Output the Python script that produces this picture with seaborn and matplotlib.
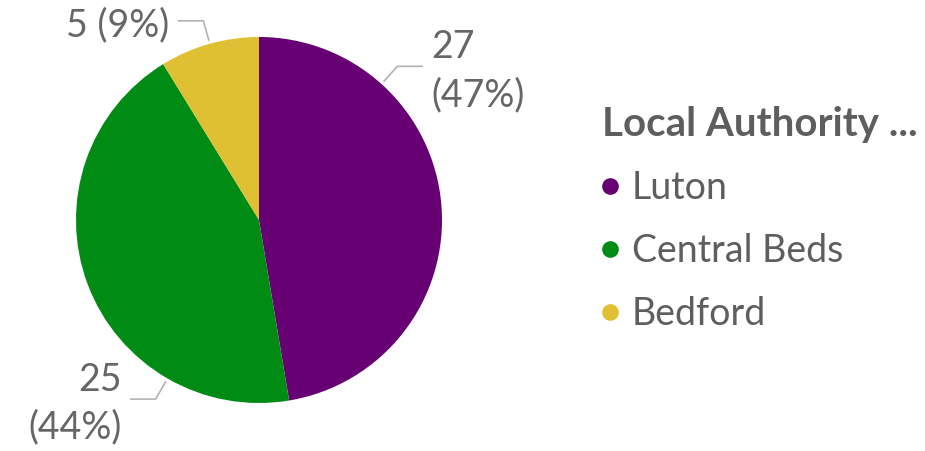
import numpy as np
import matplotlib.pyplot as plt
import seaborn as sns
from matplotlib.lines import Line2D

# data
authorities = ["Luton", "Central Beds", "Bedford"]
counts = [27, 25, 5]
colours = ["#660073", "#008C14", "#E0C033"]
legend_title = "Local Authority ..."

# leader line angles (degrees) as placed in the original
leader_angles = [48, -120, 105.6]

sns.set_theme(style="white")
plt.rcParams["font.family"] = ["Lato", "DejaVu Sans"]
text_grey = "#605E5C"

fig = plt.figure(figsize=(9.25, 4.51), dpi=100)
W, H = 925, 451
cx, cy, r = 259, 220, 183
ax = fig.add_axes([(cx - r) / W, (H - cy - r) / H, 2 * r / W, 2 * r / H])

palette = sns.color_palette(colours)
wedges, _ = ax.pie(counts, colors=palette, startangle=90, counterclock=False,
                   radius=1, wedgeprops=dict(linewidth=0))
ax.set_xlim(-1, 1)
ax.set_ylim(-1, 1)
ax.set_aspect("equal")
ax.axis("off")

total = sum(counts)
for n, ang in zip(counts, leader_angles):
    a = np.deg2rad(ang)
    p0 = np.array([np.cos(a), np.sin(a)]) * 1.02
    p1 = np.array([np.cos(a), np.sin(a)]) * 1.13
    side = 1 if np.cos(a) > 0 else -1
    p2 = p1 + np.array([side * 0.137, 0])
    ax.plot([p0[0], p1[0], p2[0]], [p0[1], p1[1], p2[1]], color="#B3B3B3",
            lw=1.2, clip_on=False, solid_joinstyle="miter")
    pct = round(100 * n / total)
    if n / total > 0.2:
        label = f"{n}\n({pct}%)"
    else:
        label = f"{n} ({pct}%)"
    tx = p2[0] + side * 0.05
    ax.text(tx, p1[1] - 0.025, label, ha="left" if side > 0 else "right",
            va="center", fontsize=27, color="#666666", linespacing=1.42,
            clip_on=False)

handles = [Line2D([0], [0], marker="o", linestyle="", markersize=12,
                  markerfacecolor=c, markeredgewidth=0) for c in palette]
leg = fig.legend(handles, authorities, title=legend_title,
                 loc="upper left", bbox_to_anchor=(602 / W, 1 - 106 / H),
                 frameon=False, fontsize=27, title_fontsize=29,
                 alignment="left", handlelength=0.45, handletextpad=0.35,
                 labelspacing=0.72, borderpad=0, borderaxespad=0)
leg.get_title().set_fontweight("bold")
leg.get_title().set_color(text_grey)
for t in leg.get_texts():
    t.set_color(text_grey)

fig.savefig("out.png", dpi=100)
